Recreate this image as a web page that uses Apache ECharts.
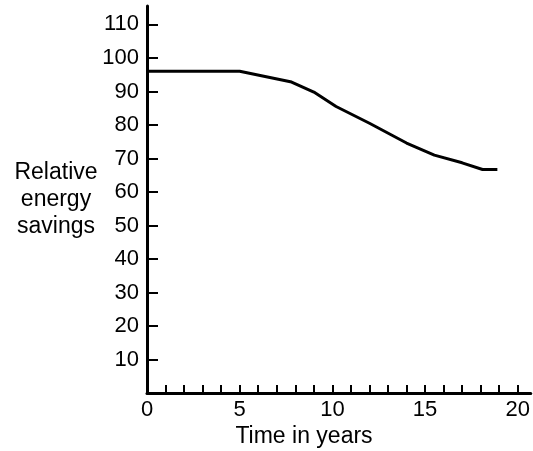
<!DOCTYPE html>
<html>
<head>
<meta charset="utf-8">
<script src="https://cdn.jsdelivr.net/npm/echarts@6/dist/echarts.min.js"></script>
<style>html,body{margin:0;padding:0;background:#fff}#c{width:533px;height:451px}</style>
</head>
<body>
<div id="c"></div>
<script>
var years = [0, 5, 7.8, 9, 10.2, 12, 14, 15.5, 17, 18.1, 18.9];
var savings = [96, 96, 92.8, 89.8, 85.5, 80.5, 74.6, 71, 68.7, 66.7, 66.7];
var xLabelValues = [0, 5, 10, 15, 20];
var xTickValues = [1,2,3,4,5,6,7,8,9,10,11,12,13,14,15,16,17,18,19,20];
var yTickValues = [10,20,30,40,50,60,70,80,90,100,110];
var xTitle = 'Time in years';
var yTitle = 'Relative\nenergy\nsavings';

var FONT = 'Liberation Sans, Arial, sans-serif';
var chart = echarts.init(document.getElementById('c'), null, {renderer: 'canvas'});
chart.setOption({
  animation: false,
  backgroundColor: '#fff',
  grid: {left: 147, right: 0, top: 6, bottom: 58, containLabel: false},
  xAxis: {
    type: 'value', min: 0, max: 20.7,
    splitLine: {show: false},
    axisLine: {show: true, lineStyle: {color: '#000', width: 3}},
    axisTick: {show: true, inside: true, length: 8, customValues: xTickValues, lineStyle: {color: '#000', width: 2}},
    axisLabel: {customValues: xLabelValues, color: '#000', fontSize: 22, fontFamily: FONT, margin: 6}
  },
  yAxis: {
    type: 'value', min: 0, max: 115.5,
    splitLine: {show: false},
    axisLine: {show: true, lineStyle: {color: '#000', width: 3}},
    axisTick: {show: true, inside: true, length: 11, customValues: yTickValues, lineStyle: {color: '#000', width: 2}},
    axisLabel: {customValues: yTickValues, color: '#000', fontSize: 22, fontFamily: FONT, margin: 8}
  },
  graphic: [
    {type: 'text', x: 304, y: 437, style: {text: xTitle, fill: '#000', font: '23px ' + FONT, textAlign: 'center', textVerticalAlign: 'middle'}},
    {type: 'text', x: 56, y: 200, style: {text: yTitle, fill: '#000', font: '23px ' + FONT, textAlign: 'center', textVerticalAlign: 'middle', lineHeight: 27}}
  ],
  series: [{
    type: 'line',
    data: years.map(function (x, i) { return [x, savings[i]]; }),
    showSymbol: false,
    lineStyle: {color: '#000', width: 3},
    itemStyle: {color: '#000'}
  }]
});
</script>
</body>
</html>
